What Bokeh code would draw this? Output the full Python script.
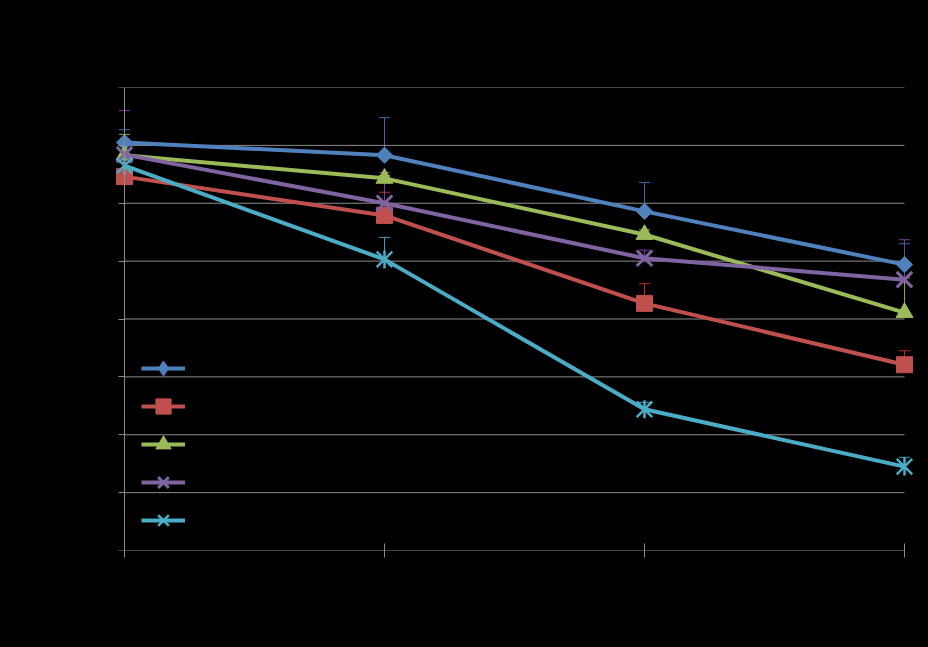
import numpy as np
from bokeh.plotting import figure
from bokeh.models import (ColumnDataSource, Whisker, TeeHead, Legend, LegendItem,
                          FixedTicker, Range1d)
from bokeh.embed import file_html
from bokeh.resources import INLINE

# ---- data ----
x_labels = ["1", "2", "3", "4"]
x_pos = [0, 1, 2, 3]
y_ticks = [0, 1, 2, 3, 4, 5, 6, 7, 8]

series_names = ["Series 1", "Series 2", "Series 3", "Series 4", "Series 5"]
s1 = [7.05, 6.83, 5.86, 4.94]
s1_err = [0.22, 0.65, 0.50, 0.36]
s2 = [6.46, 5.79, 4.27, 3.21]
s2_err = [0.08, 0.40, 0.34, 0.24]
s3 = [6.83, 6.43, 5.46, 4.11]
s3_err = [0.36, 0.05, 0.08, 0.60]
s4 = [6.84, 6.00, 5.05, 4.68]
s4_err = [0.76, 0.53, 0.14, 0.69]
s5 = [6.65, 5.03, 2.44, 1.45]
s5_err = [0.05, 0.38, 0.12, 0.16]

colors = ["#4F81BD", "#C0504D", "#9BBB59", "#8064A2", "#4BACC6"]
err_colors = ["#3A6AB4", "#B8302C", "#86A83F", "#7A3CA0", "#3A9EBA"]

# frame is padded 12px on each side so edge markers are not clipped
xpad = 12 / 260.0
p = figure(width=928, height=647, output_backend="svg", toolbar_location=None,
           x_range=Range1d(x_pos[0] - xpad, x_pos[-1] + xpad),
           y_range=Range1d(y_ticks[0], y_ticks[-1]),
           min_border_left=112, min_border_right=12, min_border_top=87,
           min_border_bottom=97)
p.background_fill_color = "#000000"
p.border_fill_color = "#000000"
p.outline_line_color = None

grey = "#8C8C8C"
p.xgrid.grid_line_color = None
p.ygrid.grid_line_color = None
p.yaxis.ticker = FixedTicker(ticks=y_ticks)
p.xaxis.ticker = FixedTicker(ticks=x_pos)
p.xaxis.major_label_overrides = {i: l for i, l in zip(x_pos, x_labels)}
for ax in (p.xaxis, p.yaxis):
    ax.axis_line_color = grey
    ax.major_tick_line_color = grey
    ax.minor_tick_line_color = None
    ax.major_label_text_color = "#000000"
    ax.major_label_text_font = "Liberation Sans"
    ax.major_label_text_font_size = "12pt"
p.yaxis.fixed_location = x_pos[0]
p.yaxis.major_tick_out = 6
p.yaxis.major_tick_in = 0
p.xaxis.axis_line_color = None
p.xaxis.major_tick_out = 7
p.xaxis.major_tick_in = 7

# horizontal gridlines and x axis line spanning the category extent only
p.segment(x0=[x_pos[0]] * len(y_ticks), x1=[x_pos[-1]] * len(y_ticks),
          y0=y_ticks, y1=y_ticks, line_color=grey, line_width=1)

vals = [s1, s2, s3, s4, s5]
errs = [s1_err, s2_err, s3_err, s4_err, s5_err]

# error bars (upper only)
for v, e, ec in zip(vals, errs, err_colors):
    src = ColumnDataSource(dict(x=x_pos, y=v, up=[a + b for a, b in zip(v, e)]))
    w = Whisker(base="x", lower="y", upper="up", source=src, line_color=ec,
                line_width=1, lower_head=None,
                upper_head=TeeHead(size=11, line_color=ec, line_width=1))
    p.add_layout(w)

items = []
for i, (v, c, name) in enumerate(zip(vals, colors, series_names)):
    src = ColumnDataSource(dict(x=x_pos, y=v))
    lr = p.line("x", "y", source=src, line_color=c, line_width=4)
    rs = [lr]
    if i == 0:
        p.scatter("x", "y", source=src, marker="square", angle=np.pi / 4,
                  size=11.5, fill_color=c, line_color=c)
        # legend-only marker (hidden in the plot area)
        rs.append(p.scatter("x", "y", source=src, marker="diamond",
                            fill_color=c, line_color=c, visible=False))
    elif i == 1:
        rs.append(p.scatter("x", "y", source=src, marker="square", size=16,
                            fill_color=c, line_color=c))
    elif i == 2:
        rs.append(p.scatter("x", "y", source=src, marker="triangle", size=17,
                            fill_color=c, line_color=c))
    elif i == 3:
        rs.append(p.scatter("x", "y", source=src, marker="x", size=22,
                            line_color=c, line_width=3))
    else:
        rs.append(p.scatter("x", "y", source=src, marker="x", size=22,
                            line_color=c, line_width=2.5))
        rs.append(p.scatter("x", "y", source=src, marker="dash", angle=np.pi / 2,
                            size=18, line_color=c, line_width=2.5))
    items.append(LegendItem(label=name, renderers=rs))

legend = Legend(items=items, location=(29, 11), margin=0, padding=0,
                glyph_width=44, glyph_height=38, label_height=38, spacing=0,
                label_standoff=12, background_fill_alpha=0, border_line_alpha=0,
                label_text_color="#000000", label_text_font="Liberation Sans",
                label_text_font_size="12pt")
p.add_layout(legend, "center")

html = file_html(p, INLINE)
html = html.replace("<head>", "<head><style>html,body{background:#000000;}</style>", 1)
open("out.html", "w").write(html)
